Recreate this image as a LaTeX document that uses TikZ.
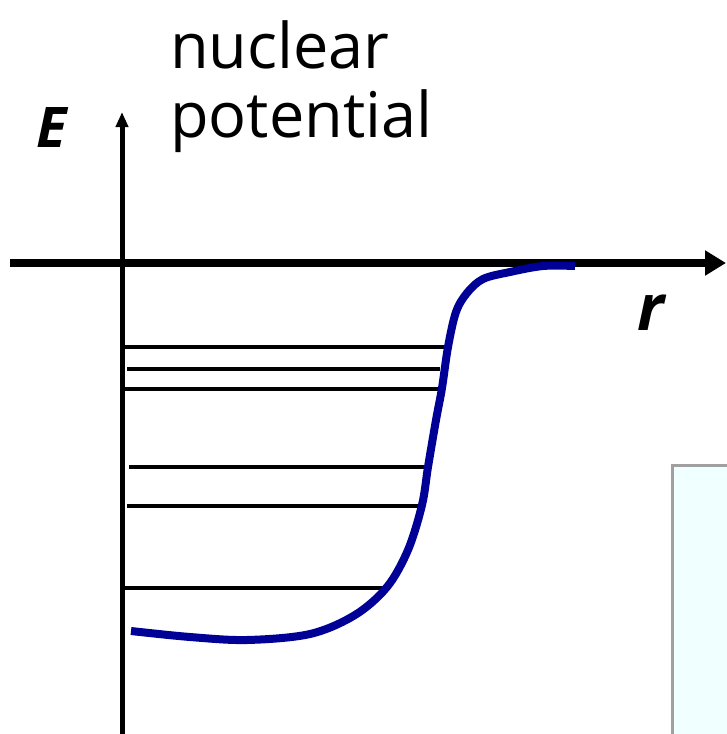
\documentclass[tikz,border=0pt]{standalone}
\usepackage{fontspec}
\setmainfont{Open Sans}
\usetikzlibrary{arrows.meta}
\definecolor{curveblue}{RGB}{0,0,150}
\definecolor{boxfill}{RGB}{240,255,255}
\definecolor{boxline}{RGB}{160,160,160}
\tikzset{
  axisline/.style={line width=#1, draw=black},
  level/.style={line width=4pt, draw=black},
  lbl/.style={inner sep=0pt, anchor=base west, font=\fontsize{63}{65}\selectfont},
  varlbl/.style={inner sep=0pt, anchor=base west, font=\bfseries\itshape\fontsize{#1}{#1}\selectfont},
}
\begin{document}
\begin{tikzpicture}[x=1pt,y=-1pt]
\useasboundingbox (0,0) rectangle (726,734);
% background box at lower right
\draw[fill=boxfill, draw=boxline, line width=3pt] (672,465) rectangle (740,750);
% axes
\coordinate (xs) at (10,263);
\coordinate (xe) at (726,263);
\coordinate (ys) at (122,734);
\coordinate (ye) at (122,112);
\draw[axisline=7.5pt, -{Triangle[length=21pt,width=24pt]}] (xs) -- (xe);
\draw[axisline=5pt, -{Triangle[length=15pt,width=12pt]}] (ys) -- (ye);
% energy levels
\coordinate (a1) at (122,347); \coordinate (b1) at (447,347);
\coordinate (a2) at (127,369); \coordinate (b2) at (440,369);
\coordinate (a3) at (122,389); \coordinate (b3) at (443,389);
\coordinate (a4) at (129,467); \coordinate (b4) at (427,467);
\coordinate (a5) at (127,506); \coordinate (b5) at (422,506);
\coordinate (a6) at (122,588); \coordinate (b6) at (387,588);
\foreach \i in {1,...,6} {\draw[level] (a\i) -- (b\i);}
% potential curve
\draw[curveblue, line width=8pt, line join=round]
  plot[smooth, tension=0.55] coordinates {
    (131,631) (190,637) (247,640) (310,634) (355,615) (387,587) (408,550) (422,505)
    (428,467) (436,420) (442,388) (448,347) (456,312) (467,293) (483,279) (510,272)
    (543,266) (575,266)};
% labels
\node[lbl] (nuc) at (170,68) {nuclear};
\node[lbl] (pot) at (170,137) {potential};
\node[varlbl=56] (E) at (36,147) {E};
\node[varlbl=64] (r) at (637,330) {r};
\end{tikzpicture}
\end{document}
